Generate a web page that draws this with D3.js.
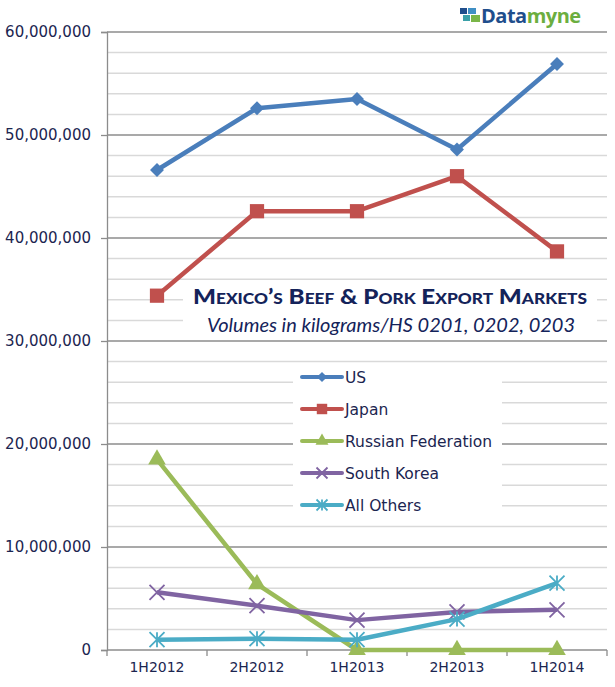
<html>
<head>
    <title>Mexico's Beef & Pork Export Markets</title>
    <script src="https://d3js.org/d3.v7.min.js"></script>
    <style>
        body { margin: 0; background: #fff; }
    </style>
</head>
<body>
    <div id="myPlot"></div>
    <script>
        // data
        var periods = ["1H2012", "2H2012", "1H2013", "2H2013", "1H2014"];
        var seriesNames = ["US", "Japan", "Russian Federation", "South Korea", "All Others"];
        var usValues = [46600000, 52600000, 53500000, 48600000, 56900000];
        var japanValues = [34400000, 42600000, 42600000, 46000000, 38700000];
        var russiaValues = [18500000, 6400000, 0, 0, 0];
        var koreaValues = [5600000, 4300000, 2900000, 3700000, 3900000];
        var othersValues = [1000000, 1100000, 1000000, 3000000, 6500000];
        var yTicks = [0, 10000000, 20000000, 30000000, 40000000, 50000000, 60000000];

        var colors = ["#4a7ebb", "#c0504d", "#9bbb59", "#8064a2", "#4bacc6"];
        var symbols = ["diamond", "square", "triangle", "cross", "asterisk"];
        var allValues = [usValues, japanValues, russiaValues, koreaValues, othersValues];

        var series = seriesNames.map(function (name, i) {
            return { name: name, values: allValues[i], color: colors[i], symbol: symbols[i] };
        });

        var width = 615, height = 687;
        var margin = { left: 107, right: 8, top: 32, bottom: 37 };

        var svg = d3.select("#myPlot").append("svg")
            .attr("width", width)
            .attr("height", height);

        var xScale = d3.scalePoint()
            .domain(periods)
            .range([margin.left, width - margin.right])
            .padding(0.5);

        var yScale = d3.scaleLinear()
            .domain([0, 60000000])
            .range([height - margin.bottom, margin.top]);

        var textColor = "#1b2550";

        // minor gridlines every 2M
        var minor = d3.range(0, 60000001, 2000000).filter(function (d) { return d % 10000000 !== 0; });
        svg.append("g").selectAll("line")
            .data(minor)
            .enter().append("line")
            .attr("x1", margin.left).attr("x2", width - margin.right)
            .attr("y1", function (d) { return yScale(d); })
            .attr("y2", function (d) { return yScale(d); })
            .attr("stroke", "#d9d9d9")
            .attr("stroke-width", 1.5);

        // major gridlines
        svg.append("g").selectAll("line")
            .data(yTicks.slice(1))
            .enter().append("line")
            .attr("x1", margin.left).attr("x2", width - margin.right)
            .attr("y1", function (d) { return yScale(d); })
            .attr("y2", function (d) { return yScale(d); })
            .attr("stroke", "#8c8c8c")
            .attr("stroke-width", 1.3);

        // y axis
        var yAxis = svg.append("g")
            .attr("transform", "translate(" + margin.left + ",0)")
            .call(d3.axisLeft(yScale).tickValues(yTicks).tickSize(6).tickPadding(10)
                .tickFormat(d3.format(",")));
        yAxis.select(".domain").attr("stroke", "#8c8c8c").attr("stroke-width", 1.3);
        yAxis.selectAll(".tick line").attr("stroke", "#8c8c8c").attr("stroke-width", 1.3);
        yAxis.selectAll("text")
            .attr("fill", textColor)
            .style("font-family", "DejaVu Sans")
            .style("font-size", "15px");

        // x axis: ticks between categories
        var step = xScale.step();
        var bounds = d3.range(periods.length + 1).map(function (i) { return margin.left + i * step; });
        var xAxis = svg.append("g");
        xAxis.append("line")
            .attr("x1", margin.left).attr("x2", width - margin.right)
            .attr("y1", yScale(0)).attr("y2", yScale(0))
            .attr("stroke", "#8c8c8c").attr("stroke-width", 1.3);
        xAxis.selectAll(".tk")
            .data(bounds)
            .enter().append("line")
            .attr("class", "tk")
            .attr("x1", function (d) { return d; }).attr("x2", function (d) { return d; })
            .attr("y1", yScale(0)).attr("y2", yScale(0) + 6)
            .attr("stroke", "#8c8c8c").attr("stroke-width", 1.3);
        xAxis.selectAll("text")
            .data(periods)
            .enter().append("text")
            .attr("x", function (d) { return xScale(d); })
            .attr("y", yScale(0) + 22)
            .attr("text-anchor", "middle")
            .attr("fill", textColor)
            .style("font-family", "DejaVu Sans")
            .style("font-size", "14px")
            .text(function (d) { return d; });

        // title box
        svg.append("rect")
            .attr("x", 183).attr("y", 282).attr("width", 414).attr("height", 55)
            .attr("fill", "#fff");
        svg.append("text")
            .attr("x", 390).attr("y", 304)
            .attr("text-anchor", "middle")
            .attr("fill", "#14235a")
            .attr("textLength", 394)
            .attr("lengthAdjust", "spacingAndGlyphs")
            .style("font-family", "Lato")
            .style("font-weight", "900")
            .style("font-variant", "small-caps")
            .style("font-size", "21px")
            .text("Mexico\u2019s Beef & Pork Export Markets");
        svg.append("text")
            .attr("x", 391).attr("y", 332)
            .attr("text-anchor", "middle")
            .attr("fill", "#14235a")
            .attr("textLength", 368)
            .attr("lengthAdjust", "spacingAndGlyphs")
            .style("font-family", "Lato")
            .style("font-style", "italic")
            .style("font-size", "18.5px")
            .text("Volumes in kilograms/HS 0201, 0202, 0203");

        // legend box
        svg.append("rect")
            .attr("x", 293).attr("y", 364).attr("width", 209).attr("height", 155)
            .attr("fill", "#fff");

        function symbolPath(sym, size) {
            var s = size / 2;
            if (sym === "diamond") return d3.symbol().type(d3.symbolDiamond2).size(size * size * 0.55)();
            if (sym === "square") return d3.symbol().type(d3.symbolSquare).size(size * size * 0.9)();
            if (sym === "triangle") return d3.symbol().type(d3.symbolTriangle).size(size * size * 0.6)();
            if (sym === "cross") return "M" + (-s) + "," + (-s) + "L" + s + "," + s + "M" + (-s) + "," + s + "L" + s + "," + (-s);
            // asterisk
            return "M" + (-s) + "," + (-s) + "L" + s + "," + s + "M" + (-s) + "," + s + "L" + s + "," + (-s) +
                "M0," + (-s) + "L0," + s;
        }

        function drawMarker(g, d, size) {
            var p = g.append("path").attr("d", symbolPath(d.symbol, size));
            if (d.symbol === "cross" || d.symbol === "asterisk") {
                p.attr("fill", "none").attr("stroke", d.color).attr("stroke-width", 1.8);
            } else {
                p.attr("fill", d.color);
            }
        }

        // lines
        var line = d3.line()
            .x(function (d, i) { return xScale(periods[i]); })
            .y(function (d) { return yScale(d); });

        var groups = svg.selectAll("g.series")
            .data(series)
            .enter().append("g")
            .attr("class", "series");

        groups.append("path")
            .attr("d", function (d) { return line(d.values); })
            .attr("fill", "none")
            .attr("stroke", function (d) { return d.color; })
            .attr("stroke-width", 4.5)
            .attr("stroke-linejoin", "round");

        groups.each(function (d) {
            var g = d3.select(this);
            d.values.forEach(function (v, i) {
                var m = g.append("g")
                    .attr("transform", "translate(" + xScale(periods[i]) + "," + yScale(v) + ")");
                drawMarker(m, d, 15);
            });
        });

        // legend
        var legend = svg.append("g");
        var rows = legend.selectAll("g")
            .data(series)
            .enter().append("g")
            .attr("transform", function (d, i) { return "translate(302," + (377 + i * 32) + ")"; });
        rows.append("line")
            .attr("x1", 0).attr("x2", 40)
            .attr("stroke", function (d) { return d.color; })
            .attr("stroke-width", 4)
            .attr("stroke-linecap", "round");
        rows.each(function (d) {
            var m = d3.select(this).append("g").attr("transform", "translate(20,0)");
            drawMarker(m, d, 11);
        });
        rows.append("text")
            .attr("x", 43).attr("y", 6)
            .attr("fill", textColor)
            .style("font-family", "DejaVu Sans")
            .style("font-size", "15.5px")
            .text(function (d) { return d.name; });

        // logo
        var logo = svg.append("g").attr("transform", "translate(460,5)");
        logo.append("rect").attr("x", 0).attr("y", 3).attr("width", 7).attr("height", 6).attr("fill", "#1f4e8c");
        logo.append("rect").attr("x", 8).attr("y", 3).attr("width", 8).attr("height", 6).attr("fill", "#3f8fc4");
        logo.append("rect").attr("x", 3).attr("y", 10).attr("width", 7).attr("height", 6).attr("fill", "#3aa0a8");
        logo.append("rect").attr("x", 11).attr("y", 10).attr("width", 9).attr("height", 7).attr("fill", "#7ab648");
        var logoText = logo.append("text")
            .attr("x", 21).attr("y", 18)
            .style("font-family", "Open Sans")
            .style("font-weight", "bold")
            .style("font-size", "20px")
            .style("letter-spacing", "-0.5px");
        logoText.append("tspan").attr("fill", "#1f4e8c").text("Data");
        logoText.append("tspan").attr("fill", "#6cae3f").text("myne");
    </script>
</body>
</html>
